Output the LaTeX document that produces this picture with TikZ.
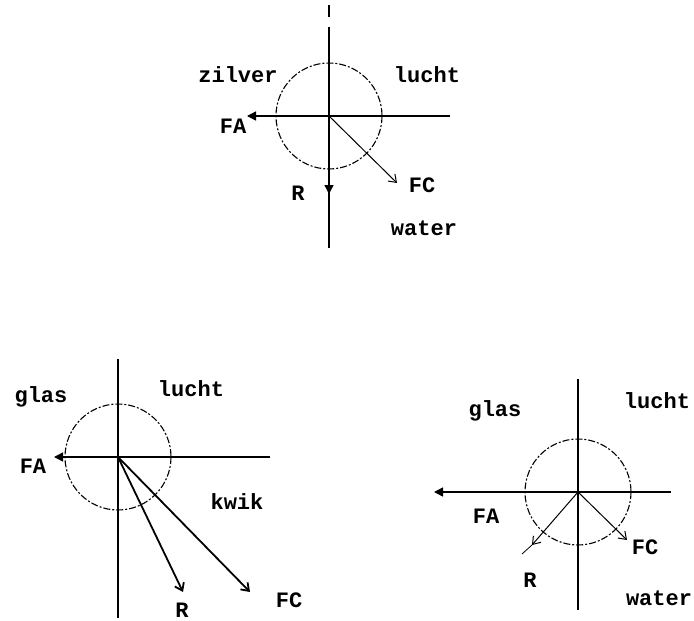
\documentclass[tikz,border=0pt]{standalone}
\usepackage{fontspec}
\setmonofont{Liberation Mono}
\usetikzlibrary{arrows.meta}

\begin{document}
\begin{tikzpicture}[
    x=1pt, y=-1pt,
    axis/.style={line width=1.4pt},
    ring/.style={line width=1.1pt, dash pattern=on 7pt off 2pt on 2pt off 2pt},
    force/.style={line width=1pt, -{Straight Barb[length=7pt,width=10pt]}},
    heavy/.style={line width=1.8pt, -{Straight Barb[length=7pt,width=10pt]}},
    push/.style={line width=1.4pt, -{Triangle[length=9pt,width=9pt]}},
    tag/.style={font=\ttfamily\bfseries\fontsize{22}{22}\selectfont, inner sep=0pt}
]
    \useasboundingbox (0,0) rectangle (694,621);

    % ================= TOP: zilver / lucht / water =================
    \coordinate (M1) at (329,116);
    \coordinate (dashA) at (329,5);
    \coordinate (dashB) at (329,17);
    \coordinate (top1) at (329,27);
    \coordinate (bot1) at (329,248);
    \coordinate (right1) at (450,116);
    \coordinate (FAtip1) at (247,116);
    \coordinate (FCtip1) at (397,183);
    \coordinate (Rtip1) at (329,194);

    \draw[axis] (dashA) -- (dashB);
    \draw[axis] (top1) -- (bot1);
    \draw[push] (right1) -- (FAtip1);
    \draw[ring] (M1) circle[radius=53];
    \draw[force] (M1) -- (FCtip1);
    \draw[push] (M1) -- (Rtip1);

    \node[tag] (zilver1) at (238,75) {zilver};
    \node[tag] (lucht1) at (427,75) {lucht};
    \node[tag] (FA1) at (233,126) {FA};
    \node[tag] (FC1) at (422,185) {FC};
    \node[tag] (R1) at (298,193) {R};
    \node[tag] (water1) at (424,228) {water};

    % ================= BOTTOM LEFT: glas / lucht / kwik =================
    \coordinate (M2) at (118,457);
    \coordinate (top2) at (118,359);
    \coordinate (bot2) at (118,618);
    \coordinate (right2) at (270,457);
    \coordinate (FAtip2) at (54,457);
    \coordinate (Rtip2) at (183,592);
    \coordinate (FCtip2) at (250,592);

    \draw[axis] (top2) -- (bot2);
    \draw[push] (right2) -- (FAtip2);
    \draw[ring] (M2) circle[radius=53];
    \draw[heavy] (M2) -- (Rtip2);
    \draw[heavy] (M2) -- (FCtip2);

    \node[tag] (glas2) at (41,397) {glas};
    \node[tag] (lucht2) at (191,389) {lucht};
    \node[tag] (FA2) at (33,466) {FA};
    \node[tag] (kwik2) at (237,502) {kwik};
    \node[tag] (R2) at (182,610) {R};
    \node[tag] (FC2) at (289,600) {FC};

    % ================= BOTTOM RIGHT: glas / lucht / water =================
    \coordinate (M3) at (578,492);
    \coordinate (top3) at (578,379);
    \coordinate (bot3) at (578,610);
    \coordinate (right3) at (671,492);
    \coordinate (FAtip3) at (434,492);
    \coordinate (Rtip3) at (532,545);
    \coordinate (Rend3) at (522,554);
    \coordinate (FCtip3) at (627,540);

    \draw[axis] (top3) -- (bot3);
    \draw[push] (right3) -- (FAtip3);
    \draw[ring] (M3) circle[radius=53];
    \draw[force] (M3) -- (Rtip3);
    \draw[line width=0.8pt] (Rtip3) -- (Rend3);
    \draw[force] (M3) -- (FCtip3);

    \node[tag] (glas3) at (495,411) {glas};
    \node[tag] (lucht3) at (657,401) {lucht};
    \node[tag] (FA3) at (486,516) {FA};
    \node[tag] (R3) at (530,580) {R};
    \node[tag] (FC3) at (645,547) {FC};
    \node[tag] (water3) at (659,598) {water};

\end{tikzpicture}
\end{document}
